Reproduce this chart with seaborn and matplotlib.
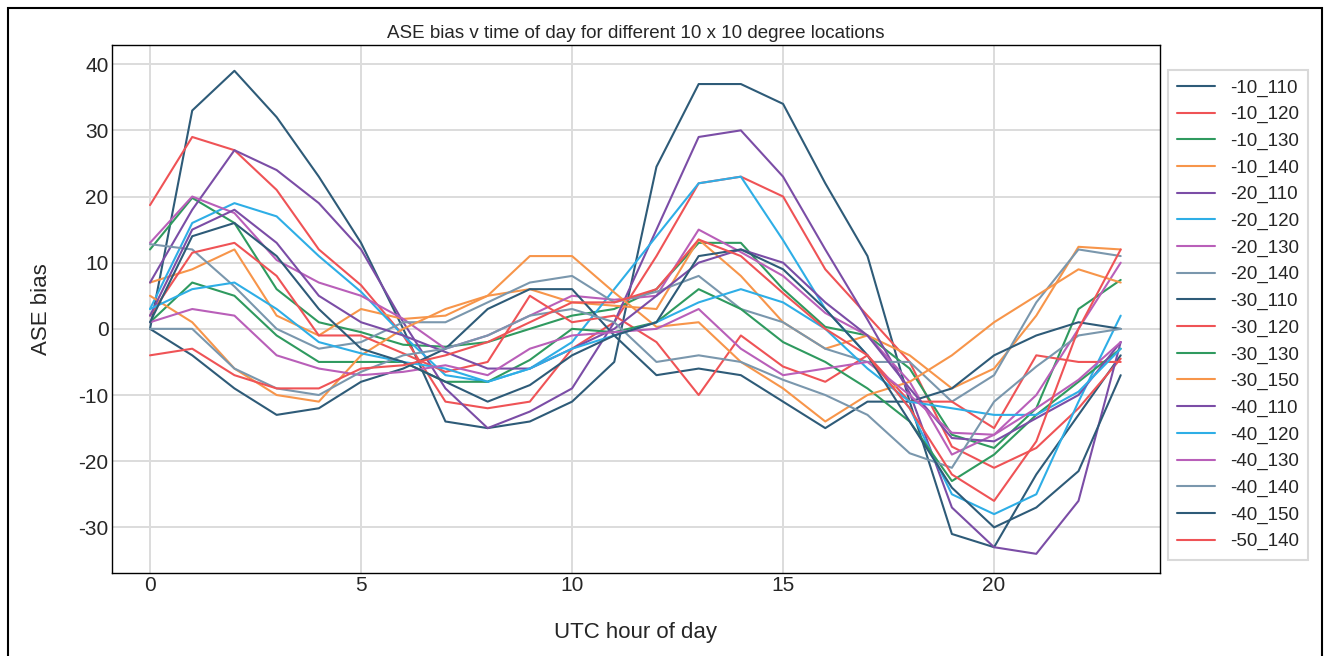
import numpy as np
import pandas as pd
import matplotlib
matplotlib.use("Agg")
import matplotlib.pyplot as plt
from matplotlib.patches import Rectangle
import seaborn as sns

hours = list(range(24))

locations = ["-10_110", "-10_120", "-10_130", "-10_140", "-20_110", "-20_120",
             "-20_130", "-20_140", "-30_110", "-30_120", "-30_130", "-30_150",
             "-40_110", "-40_120", "-40_130", "-40_140", "-40_150", "-50_140"]

s_10_110 = [0, 33, 39, 32, 23, 13, 0, -14, -15, -14, -11, -5, 24.5, 37, 37, 34, 22, 11, -11, -31, -33, -22, -13, -4]
s_10_120 = [18.7, 29, 27, 21, 12, 6.6, -1, -11, -12, -11, -3, 1, 11, 22, 23, 20, 9, 2, -5, -17.8, -21, -18, -12, -4.5]
s_10_130 = [12, 19.8, 16, 6, 1, -0.5, -2.4, -2.7, -2, 0, 2, 3, 6, 13, 13, 6, 0.3, -1, -6, -16, -18, -12, 3, 7.4]
s_10_140 = [7, 9, 12, 2, -1, 3, 1.5, 2, 5, 6, 4, 3.5, 3, 13.5, 8, 1, -3, -1, -4, -9, -6, 2, 12.4, 12]
s_20_110 = [7, 18, 27, 24, 19, 12, 1, -9, -15, -12.5, -9, 1, 15, 29, 30, 23, 12, 1.4, -9.7, -27, -33, -34, -26, -2]
s_20_120 = [3, 16, 19, 17, 11, 5.6, -1, -7, -8, -6, -2, 6, 14, 22, 23, 13.4, 3, -4, -12, -25, -28, -25, -11, 2]
s_20_130 = [13, 20, 17.5, 10.4, 7, 5, 1.5, -3, -1, 2, 5, 4.4, 5, 15, 11.6, 8, 2.4, -1, -8, -19, -16, -10, 0, 10]
s_20_140 = [12.8, 12, 6.4, 0, -3, -2, 1, 1, 4, 7, 8, 4, 5.6, 8, 3, 1, -3, -5, -5, -11, -7, 4, 12, 11]
s_30_110 = [0, -4, -9, -13, -12, -8, -6, -3, 3, 6, 6, -1, -7, -6, -7, -11, -15, -11, -11, -9, -4, -1, 1, 0]
s_30_120 = [2, 11.5, 13, 8, -1, -1, -3.7, -6.5, -5, 5, 1, 2, -2, -10, -1, -5.7, -8, -4, -11, -11, -15, -4, -5, -5]
s_30_130 = [1, 7, 5, -1, -5, -5, -5, -8, -8, -4.7, 0, -0.5, 1, 6, 3, -2, -5, -9, -14, -23, -19, -13, -8, -3]
s_30_150 = [5, 1, -6, -10, -11, -4, 0, 3, 5, 11, 11, 5.5, 0.3, 1, -5, -9, -14, -10, -8, -4, 1, 5, 9, 7]
s_40_110 = [2, 15, 18, 13, 5, 1, -1, -3.5, -6, -6, -3, 0, 5, 10, 12, 10, 4, -1, -9, -16.5, -17, -13.5, -10, -2]
s_40_120 = [3, 6, 7, 3, -2, -3.7, -5, -6, -8, -6, -3, -1, 1, 4, 6, 4, 0, -6, -11, -12, -13, -13, -9.5, -3]
s_40_130 = [1, 3, 2, -4, -6, -7, -6.5, -5.5, -7, -3, -1, -0.5, 0, 3, -3, -7, -6, -5, -10, -15.7, -16, -12, -7.7, -2]
s_40_140 = [0, 0, -6, -9, -10, -6.5, -4, -3, -1, 2, 3, 1, -5, -4, -5, -7.7, -10, -13, -18.8, -21, -11, -5.7, -1, 0]
s_40_150 = [1, 14, 16, 11, 3, -3, -5, -8, -11, -8.5, -4, -1, 1, 11, 12, 9, 3, -4, -14, -24, -30, -27, -21.5, -7]
s_50_140 = [-4, -3, -7, -9, -9, -6, -5.5, -4, -2, 1, 4, 4, 6, 13.5, 11, 5.4, 0, -4, -12, -22, -26, -17, 0, 12]

series = [s_10_110, s_10_120, s_10_130, s_10_140, s_20_110, s_20_120, s_20_130, s_20_140,
          s_30_110, s_30_120, s_30_130, s_30_150, s_40_110, s_40_120, s_40_130, s_40_140,
          s_40_150, s_50_140]

base_colors = ["#2e5b78", "#ef5356", "#2f9a5f", "#f7954a",
               "#7b4da6", "#2eaee6", "#b95fb9", "#7a97ad"]
palette = [base_colors[i % 8] for i in range(len(locations))]

rows = []
for loc, vals in zip(locations, series):
    for h, v in zip(hours, vals):
        rows.append({"hour": h, "bias": v, "location": loc})
df = pd.DataFrame(rows)

sns.set_style("whitegrid")
plt.rcParams["font.family"] = ["Liberation Sans", "DejaVu Sans"]
plt.rcParams["axes.unicode_minus"] = False

fig = plt.figure(figsize=(13.29, 6.56), dpi=100)
ax = fig.add_axes([0.0843, 0.1265, 0.7885, 0.8049])

sns.lineplot(data=df, x="hour", y="bias", hue="location", hue_order=locations,
             palette=palette, linewidth=1.5, ax=ax, legend=True)

ax.set_xlim(-0.9, 23.93)
ax.set_ylim(-36.9, 42.9)
ax.set_xticks([0, 5, 10, 15, 20])
ax.set_yticks([-30, -20, -10, 0, 10, 20, 30, 40])
ax.tick_params(axis="both", labelsize=15, length=0, pad=2.5)
ax.set_xlabel("UTC hour of day", fontsize=16, labelpad=19)
ax.set_ylabel("ASE bias", fontsize=16, labelpad=19)
ax.set_title("ASE bias v time of day for different 10 x 10 degree locations", fontsize=13.5, pad=5)
ax.grid(True, color="#dcdcdc", linewidth=1.4)
for sp in ax.spines.values():
    sp.set_color("black")
    sp.set_linewidth(1.0)

leg = ax.legend(loc="upper left", bbox_to_anchor=(1.0076, 0.9527), borderaxespad=0,
                fontsize=13.5, frameon=True, fancybox=False, edgecolor="#d0d0d0",
                labelspacing=0.5, handlelength=2.0, borderpad=0.5)
leg.get_frame().set_linewidth(1.5)
for line in leg.get_lines():
    line.set_linewidth(1.5)

fig.patches.append(Rectangle((0.006, -0.01), 0.989, 0.998, transform=fig.transFigure,
                             fill=False, edgecolor="black", linewidth=1.5))

fig.savefig("out.png", dpi=100)
